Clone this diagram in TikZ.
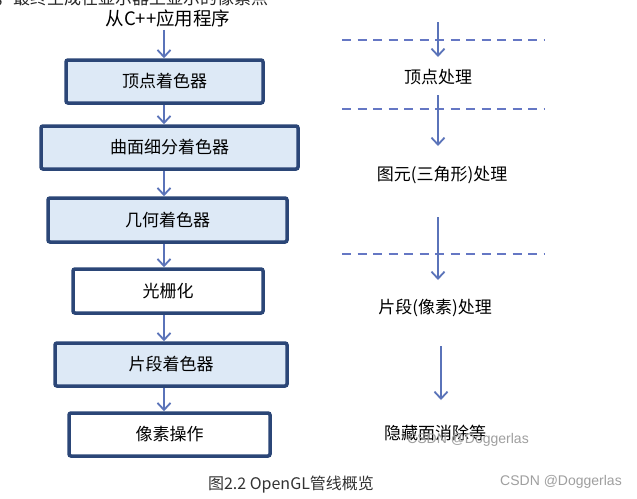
\documentclass[tikz,border=0pt]{standalone}
\usepackage{fontspec}
\setmainfont{Liberation Sans}
\newfontfamily\cjk{Noto Sans CJK SC}
\newfontfamily\wm{Liberation Sans}
\usetikzlibrary{arrows.meta}
\definecolor{boxline}{HTML}{2B4677}
\definecolor{boxfill}{HTML}{DDE9F6}
\definecolor{arrblue}{HTML}{5A73B9}
\definecolor{dashblue}{HTML}{6577C4}
\begin{document}
\begin{tikzpicture}[x=1pt,y=-1pt,
  stagebox/.style={draw=boxline,line width=3.5pt,rounded corners=2pt,fill=boxfill,
    minimum height=43pt,inner sep=0pt,font=\cjk\fontsize{17}{17}\selectfont,text=black},
  plainbox/.style={stagebox,fill=white},
  arr/.style={draw=arrblue,line width=1.8pt,-{Straight Barb[length=7pt,width=13pt,line width=1.8pt]}},
  sepline/.style={draw=dashblue,line width=1.8pt,dash pattern=on 9pt off 6.5pt},
  lab/.style={inner sep=0pt,font=\cjk\fontsize{17}{17}\selectfont,text=black},
  wmark/.style={inner sep=0pt,font=\wm\fontsize{14}{14}\selectfont,text=gray!75}]
\useasboundingbox[fill=white] (0,0) rectangle (637,498);
% truncated text at top
\node[lab,anchor=west,text=black!85] (toptxt) at (-4,-2) {，最终生成在显示器上显示的像素点};
% left column
\node[lab,font=\cjk\fontsize{18.5}{18.5}\selectfont] (app) at (168,18) {从C++应用程序};
\node[stagebox,minimum width=197pt] (b1) at (164.5,81.5) {顶点着色器};
\node[stagebox,minimum width=257pt] (b2) at (169.5,147.5) {曲面细分着色器};
\node[stagebox,minimum width=239pt,minimum height=44pt] (b3) at (167.5,220) {几何着色器};
\node[plainbox,minimum width=190pt,minimum height=44pt] (b4) at (168,291) {光栅化};
\node[stagebox,minimum width=232pt] (b5) at (171,364.5) {片段着色器};
\node[plainbox,minimum width=201pt] (b6) at (169.5,434.5) {像素操作};
\coordinate (colL) at (164,0);
\draw[arr,shorten <=3pt] (app.south -| colL) -- (b1.north -| colL);
\draw[arr] (b1.south -| colL) -- (b2.north -| colL);
\draw[arr] (b2.south -| colL) -- (b3.north -| colL);
\draw[arr] (b3.south -| colL) -- (b4.north -| colL);
\draw[arr] (b4.south -| colL) -- (b5.north -| colL);
\draw[arr] (b5.south -| colL) -- (b6.north -| colL);
% right column
\coordinate (d1a) at (342,40); \coordinate (d1b) at (545,40);
\coordinate (d2a) at (342,109); \coordinate (d2b) at (545,109);
\coordinate (d3a) at (342,254); \coordinate (d3b) at (545,254);
\draw[sepline] (d1a) -- (d1b);
\draw[sepline] (d2a) -- (d2b);
\draw[sepline] (d3a) -- (d3b);
\node[lab] (l1) at (438,77) {顶点处理};
\node[lab] (l2) at (442,175) {图元(三角形)处理};
\node[lab] (l3) at (435,308) {片段(像素)处理};
\node[lab] (l4) at (435,433) {隐藏面消除等};
\coordinate (a1s) at (438,22);  \coordinate (a1e) at (438,57);
\coordinate (a2s) at (438,95);  \coordinate (a2e) at (438,146);
\coordinate (a3s) at (438,217); \coordinate (a3e) at (438,280);
\coordinate (a4s) at (441,346); \coordinate (a4e) at (441,400);
\draw[arr] (a1s) -- (a1e);
\draw[arr] (a2s) -- (a2e);
\draw[arr] (a3s) -- (a3e);
\draw[arr] (a4s) -- (a4e);
% caption and watermarks
\node[inner sep=0pt,font=\cjk\fontsize{16}{16}\selectfont,text=black!80] (cap) at (291,485) {图2.2 OpenGL管线概览};
\node[wmark] (wm1) at (468,440) {CSDN @Doggerlas};
\node[wmark] (wm2) at (561,482) {CSDN @Doggerlas};
\end{tikzpicture}
\end{document}
